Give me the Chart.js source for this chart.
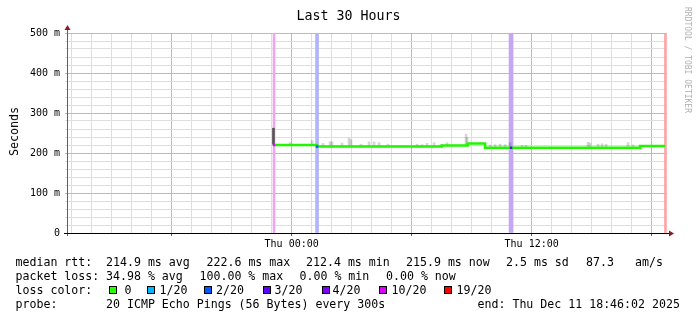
<!DOCTYPE html>
<html>
<head>
<meta charset="utf-8">
<script src="https://cdn.jsdelivr.net/npm/chart.js@4.4.1/dist/chart.umd.min.js"></script>
<style>
  html, body { margin: 0; padding: 0; background: #fff; }
  #wrap { position: relative; width: 697px; height: 321px; overflow: hidden;
          font-family: "DejaVu Sans Mono", monospace; color: #000; }
  #wrap canvas { position: absolute; left: 0; top: 0; }
  .t { position: absolute; white-space: pre; font-size: 11.6px; line-height: 14px; }
  #title { position: absolute; left: 0; width: 697px; top: 8px; text-align: center;
           font-size: 13.3px; line-height: 16px; }
  #ytitle { position: absolute; left: 7px; top: 100px; height: 63px; width: 14px;
            writing-mode: vertical-rl; transform: rotate(180deg); text-align: center;
            font-size: 11.6px; line-height: 14px; }
  #mark { position: absolute; left: 682px; top: 7px; width: 10px; writing-mode: vertical-rl;
          font-size: 8px; line-height: 10px; color: #b0b0b0; }
  .sw { position: absolute; width: 6px; height: 6px; border: 1px solid #000; top: 286px; }
</style>
</head>
<body>
<div id="wrap">
  <canvas id="c" width="697" height="321"></canvas>
  <div id="title">Last 30 Hours</div>
  <div id="ytitle">Seconds</div>
  <div id="mark">RRDTOOL / TOBI OETIKER</div>
  <div id="legend"></div>
</div>
<script>
// time axis in hours since Wed 00:00; graph ends Thu 18:46:02, spans 30 h
const START = 12.7672;
const END = 42.7672;

// median rtt (ms), step values, each holds until the next time
const medianTimes = [23.12, 25.27, 31.50, 32.80, 33.67, 41.42, 42.67];
const medianMs    = [220,   216,   218.5, 223.5, 213,   217.5, 217.5];

// smoke spikes: top of the ping spread (ms)
const smokeTimes = [23.92, 25.02, 25.57, 25.92, 26.02, 26.52, 26.87, 26.97, 27.47, 27.87,
                    28.12, 28.37, 28.82, 30.27, 30.52, 30.77, 31.12, 31.52, 31.77, 32.72,
                    32.77, 33.92, 34.17, 34.42, 34.67, 34.92, 35.52, 35.72, 38.82, 38.92,
                    39.32, 39.52, 39.72, 40.82, 41.07];
const smokeTops  = [226, 231, 224, 228, 228, 225, 237, 233, 222, 228,
                    228, 226, 222, 222, 221, 224, 226, 221, 226, 247,
                    238, 220, 221, 222, 221, 226, 219, 219, 227, 225,
                    222, 223, 222, 226, 220];

// dense smoke at the first sample
const denseTimes = [23.09];
const denseLow   = [222];
const denseHigh  = [262];

// loss events (lost pings out of 20)
const lossTimes  = [23.12, 25.27, 34.97, 42.69];
const lossLevels = [10, 2, 3, 19];

// axis ticks
const hourTicks = [];
for (let h = 13; h <= 42; h++) hourTicks.push(h);
const yTicks = [];
for (let v = 0; v <= 500; v += 20) yTicks.push(v);
const xLabelHours = [24, 36];
const xLabelTexts = ['Thu 00:00', 'Thu 12:00'];

// legend / stats
const lossLegendLevels = ['0', '1/20', '2/20', '3/20', '4/20', '10/20', '19/20'];
const statLines = [
  [['median rtt:', 15.5], ['214.9 ms avg', 106], ['222.6 ms max', 206.5], ['212.4 ms min', 306],
   ['215.9 ms now', 406], ['2.5 ms sd', 506], ['87.3', 586], ['am/s', 635]],
  [['packet loss:', 15.5], ['34.98 % avg', 106], ['100.00 % max', 199.5], ['0.00 % min', 299.5],
   ['0.00 % now', 386]],
  [['loss color:', 15.5]],
  [['probe:', 15.5], ['20 ICMP Echo Pings (56 Bytes) every 300s', 106],
   ['end: Thu Dec 11 18:46:02 2025', 477.5]]
];

// styles
const lossColor = { 0: '#26ff00', 1: '#00b8ff', 2: '#0059ff', 3: '#5e00ff', 4: '#7e00ff', 10: '#dd00ff', 19: '#ff0000' };
const bandColor = { 2: '#b0b4ff', 3: '#c4a6f2', 10: '#f0a6ee', 19: '#ffa4a4' };
const bandWidth = { 2: 3, 3: 4, 10: 2, 19: 2 };
const MINOR = '#dedede';
const MAJOR = '#eca4a4';
const tickFont = { family: 'DejaVu Sans Mono', size: 10 };
const xGridColors = hourTicks.map(h => (h % 6 === 0 ? MAJOR : MINOR));
const xTickColors = hourTicks.map(h => (h % 6 === 0 ? '#606060' : 'rgba(0,0,0,0)'));
const yGridColors = yTicks.map(v => (v % 100 === 0 ? MAJOR : MINOR));

function medianAt(t) {
  let v = medianMs[0];
  for (let i = 0; i < medianTimes.length; i++) if (medianTimes[i] <= t) v = medianMs[i];
  return v;
}

// legend html
const legend = document.getElementById('legend');
const lineTops = [254.7, 268.7, 282.7, 296.7];
statLines.forEach((parts, li) => {
  parts.forEach(([txt, x]) => {
    const d = document.createElement('div');
    d.className = 't';
    d.style.left = x + 'px';
    d.style.top = lineTops[li] + 'px';
    d.textContent = txt;
    legend.appendChild(d);
  });
});
const swX = [109, 146.5, 204, 262.5, 321.5, 379, 444];
const swLabelX = [124.5, 159.5, 216, 274.5, 332.5, 391.5, 456.5];
const swKeys = [0, 1, 2, 3, 4, 10, 19];
lossLegendLevels.forEach((lab, i) => {
  const s = document.createElement('div');
  s.className = 'sw';
  s.style.left = swX[i] + 'px';
  s.style.background = lossColor[swKeys[i]];
  legend.appendChild(s);
  const d = document.createElement('div');
  d.className = 't';
  d.style.left = swLabelX[i] + 'px';
  d.style.top = lineTops[2] + 'px';
  d.textContent = lab;
  legend.appendChild(d);
});

// datasets
const datasets = [];

datasets.push({
  type: 'line', order: 0, showLine: false,
  data: lossTimes.map((t, i) => ({ x: t, y: medianAt(t) }))
    .filter((p, i) => lossTimes[i] <= medianTimes[medianTimes.length - 1]),
  pointStyle: 'rect', pointRadius: 1.7, pointBorderWidth: 0,
  pointBackgroundColor: lossLevels.map(l => lossColor[l])
});

datasets.push({
  type: 'line', order: 1,
  data: medianTimes.map((t, i) => ({ x: t, y: medianMs[i] })),
  stepped: true, borderColor: '#22f500', borderWidth: 2.5, pointRadius: 0, fill: false
});

datasets.push({
  type: 'bar', order: 2, grouped: false, barThickness: 2,
  data: smokeTimes.map((t, i) => ({ x: t, y: [medianAt(t) - 1, smokeTops[i]] })),
  backgroundColor: 'rgba(0,0,0,0.16)', borderWidth: 0
});

datasets.push({
  type: 'bar', order: 2, grouped: false, barThickness: 2,
  data: denseTimes.map((t, i) => ({ x: t, y: [denseLow[i], denseHigh[i]] })),
  backgroundColor: '#555555', borderWidth: 0
});

lossTimes.forEach((t, i) => {
  datasets.push({
    type: 'bar', order: 3, grouped: false, barThickness: bandWidth[lossLevels[i]],
    data: [{ x: t, y: [0, 500] }],
    backgroundColor: bandColor[lossLevels[i]], borderWidth: 0
  });
});

const axisArrows = {
  id: 'axisArrows',
  afterDraw(chart) {
    const { ctx, chartArea: a } = chart;
    ctx.save();
    ctx.lineWidth = 1;
    ctx.strokeStyle = '#606060';
    ctx.beginPath();
    ctx.moveTo(a.left + 0.5, a.bottom + 3);
    ctx.lineTo(a.left + 0.5, a.top - 4);
    ctx.stroke();
    ctx.strokeStyle = '#000';
    ctx.beginPath();
    ctx.moveTo(a.left - 3, a.bottom + 0.5);
    ctx.lineTo(a.right + 3, a.bottom + 0.5);
    ctx.stroke();
    ctx.fillStyle = '#8b1c1c';
    ctx.beginPath();
    ctx.moveTo(a.left + 0.5, a.top - 8);
    ctx.lineTo(a.left - 2.5, a.top - 3);
    ctx.lineTo(a.left + 3.5, a.top - 3);
    ctx.closePath();
    ctx.fill();
    ctx.beginPath();
    ctx.moveTo(a.right + 7, a.bottom + 0.5);
    ctx.lineTo(a.right + 2, a.bottom - 2.5);
    ctx.lineTo(a.right + 2, a.bottom + 3.5);
    ctx.closePath();
    ctx.fill();
    ctx.restore();
  }
};

new Chart(document.getElementById('c'), {
  type: 'bar',
  data: { datasets },
  options: {
    responsive: false,
    animation: false,
    events: [],
    layout: { padding: { left: 0, right: 30, top: 33, bottom: 0 } },
    plugins: { legend: { display: false }, tooltip: { enabled: false }, title: { display: false } },
    scales: {
      x: {
        type: 'linear', min: START, max: END, offset: false,
        afterFit: s => { s.height = 88; },
        afterBuildTicks: s => { s.ticks = hourTicks.map(v => ({ value: v })); },
        grid: {
          offset: false, lineWidth: 1, drawTicks: true, tickLength: 3,
          color: xGridColors, tickColor: xTickColors
        },
        border: { display: false },
        ticks: {
          autoSkip: false, maxRotation: 0, minRotation: 0, padding: 2, font: tickFont, color: '#000',
          callback: v => { const i = xLabelHours.indexOf(v); return i >= 0 ? xLabelTexts[i] : ''; }
        }
      },
      y: {
        min: 0, max: 500,
        afterFit: s => { s.width = 67; },
        afterBuildTicks: s => { s.ticks = yTicks.map(v => ({ value: v })); },
        grid: {
          lineWidth: 1, drawTicks: true, tickLength: 2,
          color: yGridColors, tickColor: yGridColors
        },
        border: { display: false },
        ticks: {
          autoSkip: false, padding: 5, font: tickFont, color: '#000',
          callback: v => (v % 100 === 0 ? (v === 0 ? '0' : v + ' m') : '')
        }
      }
    }
  },
  plugins: [axisArrows]
});
</script>
</body>
</html>
